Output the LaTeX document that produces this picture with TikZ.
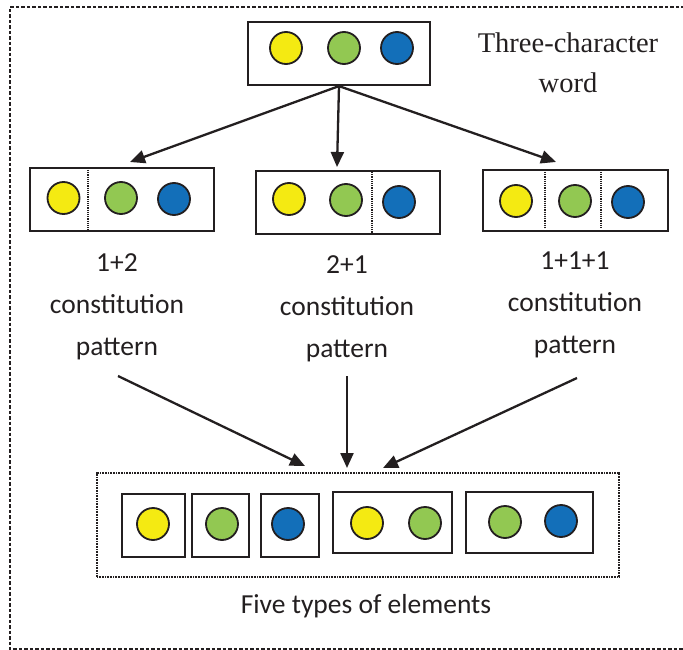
\documentclass[tikz,border=0pt]{standalone}
\usepackage{fontspec}
\setmainfont{Liberation Serif}
\newfontfamily\calib{Carlito}
\usetikzlibrary{arrows.meta}
\definecolor{cyel}{HTML}{F4EA12}
\definecolor{cgrn}{HTML}{92C852}
\definecolor{cblu}{HTML}{136FB9}
\definecolor{ink}{HTML}{231F20}
\tikzset{
  dot/.style={circle, draw=ink, line width=1.8pt, minimum size=32pt, inner sep=0pt},
  ydot/.style={dot, fill=cyel},
  gdot/.style={dot, fill=cgrn},
  bdot/.style={dot, fill=cblu},
  frame/.style={draw=ink, line width=2.2pt, inner sep=0pt},
  divider/.style={ink, line width=1.2pt, densely dotted},
  arr/.style={ink, line width=2.3pt, -{Triangle[length=15pt,width=13pt]}},
  lbl/.style={font=\calib\fontsize{27.5}{42}\selectfont, align=center, text=ink},
}
\begin{document}
\begin{tikzpicture}[x=1pt,y=-1pt]
\useasboundingbox (0,0) rectangle (683,650);
% outer dashed frame (left, top, bottom)
\draw[ink, line width=1.5pt, dash pattern=on 3.5pt off 2pt] (690,7) -- (10,7) -- (10,649) -- (690,649);

% top box
\node[frame, minimum width=182pt, minimum height=63pt] (top) at (339,53.5) {};
\node[ydot] (t1) at (286,48) {};
\node[gdot] (t2) at (344,48) {};
\node[bdot] (t3) at (397,48) {};
\node[font=\fontsize{28.5}{40}\selectfont, align=center, text=ink] (tw) at (568,63) {Three-character\\word};

% middle boxes
\node[frame, minimum width=184pt, minimum height=63pt] (b1) at (122,199.5) {};
\draw[divider] (88,170) -- (88,230);
\node[ydot] (b1y) at (63.5,198) {};
\node[gdot] (b1g) at (121,198) {};
\node[bdot] (b1b) at (174,199) {};

\node[frame, minimum width=184pt, minimum height=63pt] (b2) at (348,202.5) {};
\draw[divider] (372,172) -- (372,233);
\node[ydot] (b2y) at (289,199) {};
\node[gdot] (b2g) at (346,200) {};
\node[bdot] (b2b) at (399,202) {};

\node[frame, minimum width=185pt, minimum height=61pt] (b3) at (575.5,200.5) {};
\draw[divider] (545,172) -- (545,229);
\draw[divider] (601,172) -- (601,229);
\node[ydot] (b3y) at (516,201) {};
\node[gdot] (b3g) at (575,201) {};
\node[bdot] (b3b) at (628,202) {};

% labels
\node[lbl] (l1) at (117,307) {1+2\\constitution\\pattern};
\node[lbl] (l2) at (347,309) {2+1\\constitution\\pattern};
\node[lbl] (l3) at (575,305) {1+1+1\\constitution\\pattern};

% bottom box
\node[draw=ink, line width=1.5pt, dash pattern=on 1pt off 0.6pt, minimum width=522pt, minimum height=104pt, inner sep=0pt] (bot) at (358,525) {};
\node[frame, minimum width=63pt, minimum height=63pt] (e1) at (153.5,525.5) {};
\node[frame, minimum width=57pt, minimum height=63pt] (e2) at (220.5,525.5) {};
\node[frame, minimum width=58pt, minimum height=63pt] (e3) at (290,525.5) {};
\node[frame, minimum width=119pt, minimum height=61pt] (e4) at (392.5,522.5) {};
\node[frame, minimum width=127pt, minimum height=61pt] (e5) at (529.5,522.5) {};
\node[ydot] (e1y) at (153,524) {};
\node[gdot] (e2g) at (222,524) {};
\node[bdot] (e3b) at (288,524) {};
\node[ydot] (e4y) at (367,523) {};
\node[gdot] (e4g) at (425,523) {};
\node[gdot] (e5g) at (505,522) {};
\node[bdot] (e5b) at (561,521) {};
\node[lbl] (five) at (366,606) {Five types of elements};

% connector end points
\coordinate (a1) at (130,162);
\coordinate (a2) at (337,167);
\coordinate (a3) at (556,162);
\coordinate (s1) at (118,376);
\coordinate (s2) at (347,376);
\coordinate (s3) at (577,378);
\coordinate (c1) at (305,466);
\coordinate (c2) at (347,468);
\coordinate (c3) at (383,468);

\draw[arr] (top.south) -- (a1);
\draw[arr] (top.south) -- (a2);
\draw[arr] (top.south) -- (a3);
\draw[arr] (s1) -- (c1);
\draw[arr] (s2) -- (c2);
\draw[arr] (s3) -- (c3);
\end{tikzpicture}
\end{document}
